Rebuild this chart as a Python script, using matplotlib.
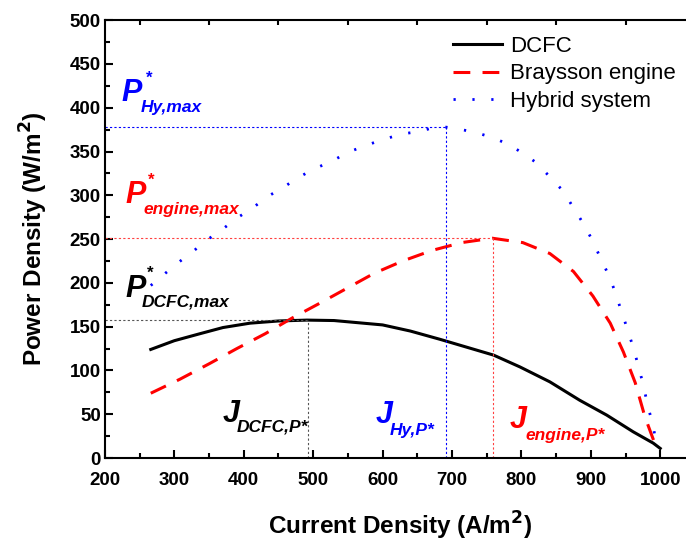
import numpy as np
import matplotlib
matplotlib.use("Agg")
import matplotlib.pyplot as plt
from matplotlib.ticker import MultipleLocator

plt.rcParams['font.family'] = ['Liberation Sans', 'DejaVu Sans']

# DCFC power density curve
j_dcfc = [266, 300, 337, 370, 409, 450, 491, 530, 600, 640, 683, 760, 798, 841,
          884, 923, 961, 990, 1000]
p_dcfc = [124, 134, 142, 149, 154, 156.5, 157.5, 157, 152, 145, 135.5, 117.5, 104,
          87, 66, 49, 30, 17, 11]

# Braysson engine curve
j_eng = [266, 308, 351, 390, 431, 470, 510, 549, 588, 629, 671, 714, 758, 802,
         841, 875, 903, 928, 947, 964, 978, 992, 995]
p_eng = [74, 90, 108, 125, 142, 160, 177, 194, 211, 225, 237, 246, 251, 246,
         233.5, 213, 185, 154, 121, 86, 47, 17, 9]

# Hybrid system curve
j_hy = [266, 287, 307, 327, 347, 369, 390, 412, 433, 455, 478, 501, 527, 550,
        576, 602, 628, 654, 672, 690, 707, 733, 758, 782, 802, 822, 841, 860,
        874, 889, 902, 913, 925, 935, 943, 952, 960, 964, 971, 977, 983, 990, 995]
p_hy = [197, 211, 224, 236, 249, 261, 274, 285, 298, 308, 320, 330, 339, 349,
        357, 364, 370, 373, 377, 378, 376, 372, 366, 358, 348, 337, 321, 305,
        287, 268, 249, 230, 210, 190, 170, 149, 129, 118, 98, 78, 57, 36, 13]

# maxima (j at P*, P*)
j_star = {'dcfc': 492, 'hy': 691, 'eng': 759}
p_star = {'dcfc': 157.5, 'hy': 378, 'eng': 251.5}

fig = plt.figure(figsize=(6.86, 5.44), dpi=100)
ax = fig.add_axes([0.153, 0.158, 1.013 - 0.153, 0.963 - 0.158])

ax.plot(j_dcfc, p_dcfc, color='black', lw=2.2, label='DCFC')
ax.plot(j_eng, p_eng, color='#ff0000', lw=2.2, ls=(0, (5.5, 4)), label='Braysson engine')
ax.plot(j_hy, p_hy, color='#0000ff', lw=2.0, ls=(0, (0.8, 6)), label='Hybrid system')

# guide lines to the maxima
guide = [('dcfc', '#555555'), ('hy', '#0000ff'), ('eng', '#ff4040')]
for key, col in guide:
    ax.plot([200, j_star[key]], [p_star[key], p_star[key]], color=col, lw=0.8,
            ls=(0, (2, 2)))
    ax.plot([j_star[key], j_star[key]], [0, p_star[key]], color=col, lw=0.8,
            ls=(0, (2, 2)))

ax.set_xlim(200, 1050)
ax.set_ylim(0, 500)
ax.xaxis.set_major_locator(MultipleLocator(100))
ax.xaxis.set_minor_locator(MultipleLocator(50))
ax.yaxis.set_major_locator(MultipleLocator(50))
ax.yaxis.set_minor_locator(MultipleLocator(25))
ax.tick_params(which='both', direction='in', top=True, width=1.5)
ax.tick_params(which='major', length=6, labelsize=13.5)
ax.tick_params(which='minor', length=3.5)
ax.tick_params(axis='x', which='major', top=False, pad=10)
ax.tick_params(axis='y', which='major', pad=3)
for lab in ax.get_xticklabels() + ax.get_yticklabels():
    lab.set_fontweight('bold')
for sp in ax.spines.values():
    sp.set_linewidth(1.5)

ax.set_xlabel('Current Density (A/m$^\\mathbf{2}$)', fontsize=17.5, fontweight='bold',
              labelpad=15)
ax.set_ylabel('Power Density (W/m$^\\mathbf{2}$)', fontsize=17.5, fontweight='bold',
              labelpad=14)

leg = ax.legend(loc='upper left', bbox_to_anchor=(0.568, 0.995), frameon=False,
                fontsize=16, handlelength=2.2, handletextpad=0.35,
                labelspacing=0.3, borderaxespad=0.2)

bi = dict(fontweight='bold', fontstyle='italic', va='baseline')

def label(x, y, big, sx, sy, sub, color, star=None):
    ax.text(x, y, big, fontsize=22, color=color, **bi)
    ax.text(sx, sy, sub, fontsize=12.5, color=color, **bi)
    if star is not None:
        ax.text(star[0], star[1], '*', fontsize=12, color=color,
                fontweight='bold', va='top')

label(224.5, 407.5, 'P', 252, 395.5, 'Hy,max', '#0000ff', star=(259, 442))
label(230, 291, 'P', 255, 279, 'engine,max', '#ff0000', star=(262, 326))
label(229, 184, 'P', 253, 172.7, 'DCFC,max', 'black', star=(260, 219))

label(369.6, 41.5, 'J', 389.7, 30, 'DCFC,P*', 'black')
label(590, 39.6, 'J', 610.7, 26.3, 'Hy,P*', '#0000ff')
label(783.6, 33.9, 'J', 805.2, 20.5, 'engine,P*', '#ff0000')

fig.savefig('out.png', dpi=100)
